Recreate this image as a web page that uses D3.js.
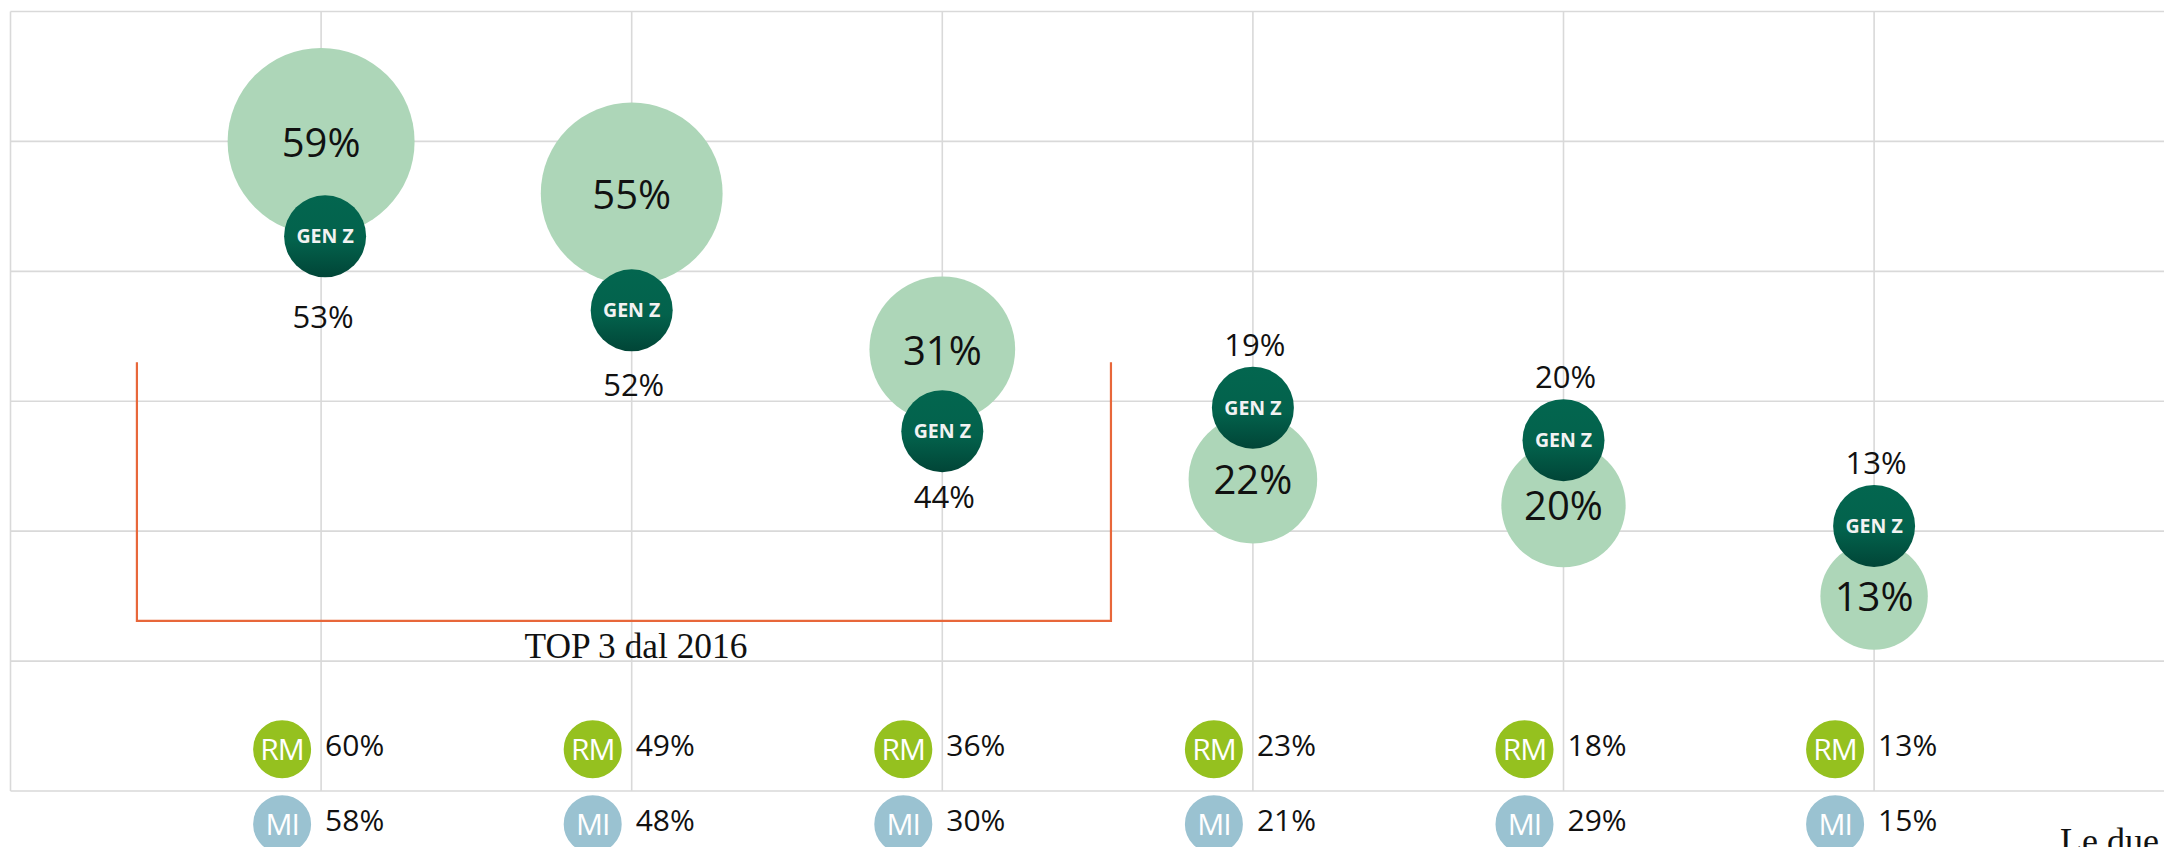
<!DOCTYPE html>
<html>
<head>
<meta charset="utf-8">
<script src="https://cdn.jsdelivr.net/npm/d3@7"></script>
<style>
  html, body { margin: 0; padding: 0; background: #ffffff; }
  svg { display: block; }
</style>
</head>
<body>
<svg id="chart" width="2164" height="847"></svg>
<script>
// ---------------- DATA ----------------
const xValues       = [1, 2, 3, 4, 5, 6];            // bubble chart x positions (categories)
const totalValues   = [59, 55, 31, 22, 20, 13];      // light green bubbles (label + size)
const totalY        = [50, 46, 34, 24, 22, 15];      // light green bubbles y value
const genZValues    = [53, 52, 44, 19, 20, 13];      // GEN Z labels
const genZY         = [42.7, 37, 27.7, 29.5, 27, 20.4]; // GEN Z markers y value
const romaValues    = [60, 49, 36, 23, 18, 13];      // RM
const milanoValues  = [58, 48, 30, 21, 29, 15];      // MI
const yTicks        = [0, 10, 20, 30, 40, 50, 60];
const xTicks        = [0, 1, 2, 3, 4, 5, 6, 7];
const bracketLabel  = "TOP 3 dal 2016";
const footerText    = "Le due";

// ---------------- SETUP ----------------
const svg = d3.select("#chart");
const W = 2164, H = 847;

const x = d3.scaleLinear().domain([0, 7]).range([10.5, 2184.7]);
const y = d3.scaleLinear().domain([0, 60]).range([791, 11.5]);
const r = d3.scaleSqrt().domain([13, 59]).range([53.7, 93.5]);

const font = "'Open Sans', 'Noto Sans', sans-serif";

// gradient for GEN Z markers
const defs = svg.append("defs");
const grad = defs.append("linearGradient").attr("id", "genz").attr("x1", 0).attr("y1", 0).attr("x2", 0).attr("y2", 1);
grad.append("stop").attr("offset", "0%").attr("stop-color", "#03664F");
grad.append("stop").attr("offset", "55%").attr("stop-color", "#03624C");
grad.append("stop").attr("offset", "100%").attr("stop-color", "#014537");

// ---------------- GRID ----------------
const grid = svg.append("g").attr("class", "grid");
grid.selectAll("line.h").data(yTicks).join("line")
  .attr("class", "h")
  .attr("x1", x(0)).attr("x2", W)
  .attr("y1", d => y(d)).attr("y2", d => y(d))
  .attr("stroke", "#D9D9D9").attr("stroke-width", 1.6);
grid.selectAll("line.v").data(xTicks).join("line")
  .attr("class", "v")
  .attr("x1", d => x(d)).attr("x2", d => x(d))
  .attr("y1", y(60)).attr("y2", y(0))
  .attr("stroke", "#D9D9D9").attr("stroke-width", 1.6);

// ---------------- BRACKET ----------------
const bx0 = x(0.407), bx1 = x(3.543), byTop = y(33), byBot = y(13.1);
svg.append("path")
  .attr("d", `M${bx0},${byTop} L${bx0},${byBot} L${bx1},${byBot} L${bx1},${byTop}`)
  .attr("fill", "none").attr("stroke", "#E8673A").attr("stroke-width", 2.2);
svg.append("text")
  .attr("x", (bx0 + bx1) / 2 + 12).attr("y", byBot + 37)
  .attr("text-anchor", "middle")
  .attr("font-family", "'Liberation Serif', 'Times New Roman', serif")
  .attr("font-size", 35)
  .attr("textLength", 223).attr("lengthAdjust", "spacingAndGlyphs")
  .attr("fill", "#111")
  .text(bracketLabel);

// ---------------- BUBBLES ----------------
const idx = d3.range(xValues.length);

svg.append("g").selectAll("circle").data(idx).join("circle")
  .attr("cx", i => x(xValues[i]))
  .attr("cy", i => y(totalY[i]))
  .attr("r", i => r(totalValues[i]))
  .attr("fill", "#ADD6B8");

svg.append("g").selectAll("text").data(idx).join("text")
  .attr("x", i => x(xValues[i]))
  .attr("y", i => y(totalY[i]) + 0.357 * 40 + 1)
  .attr("text-anchor", "middle")
  .attr("font-family", font).attr("font-size", 40)
  .attr("fill", "#111")
  .text(i => totalValues[i] + "%");

// GEN Z markers
const gz = svg.append("g").selectAll("g").data(idx).join("g")
  .attr("transform", i => `translate(${x(xValues[i]) + (i === 0 ? 4 : 0)},${y(genZY[i])})`);
gz.append("circle").attr("r", 41).attr("fill", "url(#genz)");
gz.append("text")
  .attr("text-anchor", "middle").attr("y", 7)
  .attr("font-family", font).attr("font-weight", 700).attr("font-size", 19.5)
  .attr("fill", "#F2F2F2")
  .text("GEN Z");

// GEN Z labels (below if marker is under the bubble, otherwise above)
svg.append("g").selectAll("text").data(idx).join("text")
  .attr("x", i => x(xValues[i]) + 2)
  .attr("y", i => {
    const cy = y(genZY[i]);
    const below = genZY[i] < totalY[i];
    const centre = below ? cy + 75 + (i === 0 ? 6 : 0) - (i === 2 ? 9 : 0) : cy - 63;
    return centre + 0.357 * 31;
  })
  .attr("text-anchor", "middle")
  .attr("font-family", font).attr("font-size", 31)
  .attr("fill", "#111")
  .text(i => genZValues[i] + "%");

// ---------------- CITY ROWS ----------------
function cityRow(values, yVal, colour, code) {
  const g = svg.append("g");
  const cy = y(yVal);
  const row = g.selectAll("g").data(idx).join("g");
  row.append("circle")
    .attr("cx", i => x(xValues[i]) - 39).attr("cy", cy).attr("r", 30.5)
    .attr("fill", colour).attr("stroke", "#ffffff").attr("stroke-width", 3);
  row.append("text")
    .attr("x", i => x(xValues[i]) - 39).attr("y", cy + 0.357 * 30)
    .attr("text-anchor", "middle")
    .attr("font-family", font).attr("font-size", 30)
    .attr("letter-spacing", -1)
    .attr("fill", "#ffffff")
    .text(code);
  row.append("text")
    .attr("x", i => x(xValues[i]) + 4).attr("y", cy - 4 + 0.357 * 30)
    .attr("font-family", font).attr("font-size", 30)
    .attr("fill", "#111")
    .text(i => values[i] + "%");
}
cityRow(romaValues, 3.22, "#95C11F", "RM");
cityRow(milanoValues, -2.55, "#9AC2D1", "MI");

// ---------------- FOOTER ----------------
svg.append("text")
  .attr("x", 2060).attr("y", 853)
  .attr("font-family", "'Liberation Serif', 'Times New Roman', serif")
  .attr("font-size", 36).attr("fill", "#111")
  .text(footerText);
</script>
</body>
</html>
